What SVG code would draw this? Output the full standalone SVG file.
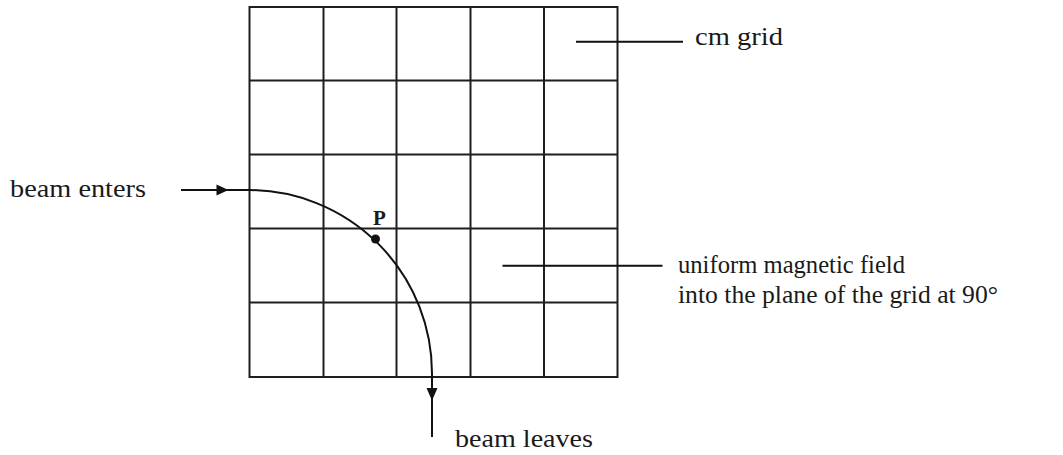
<svg xmlns="http://www.w3.org/2000/svg" width="1063" height="455" viewBox="0 0 1063 455">
<style>
.g{stroke:#1e1e1e;stroke-width:2;fill:none}
.b{stroke:#111;stroke-width:2;fill:none}
.t{font-family:'Liberation Serif','DejaVu Serif','Times New Roman',serif;font-size:26px;fill:#1a1a1a}
.p{font-family:'Liberation Serif','DejaVu Serif','Times New Roman',serif;font-size:21px;font-weight:bold;fill:#1a1a1a}
.h{fill:#111}
</style>
<rect width="1063" height="455" fill="#fff"/>
<g id="grid">
<rect class="g" x="249.5" y="7" width="368" height="370"/>
<path class="g" d="M323.5 7V377M396.5 7V377M470.5 7V377M544 7V377M249.5 80.5H617.5M249.5 154.5H617.5M249.5 228.5H617.5M249.5 302.5H617.5"/>
</g>
<g id="connectors">
<path class="b" d="M181 190H249A183.5 183.5 0 0 1 432 374V437"/>
<polygon class="h" points="228.5,190 216.5,184.5 216.5,195.5"/>
<polygon class="h" points="432,400.5 426.5,388 437.5,388"/>
<path class="b" d="M576 41.7H683M502.5 265.7H662.5"/>
</g>
<g id="point-P">
<circle class="h" cx="375.5" cy="239" r="4.5"/>
<text class="p" x="373" y="225">P</text>
</g>
<g id="label-enters"><text class="t" x="10" y="197" textLength="136" lengthAdjust="spacingAndGlyphs">beam enters</text></g>
<g id="label-leaves"><text class="t" x="455" y="447" textLength="138" lengthAdjust="spacingAndGlyphs">beam leaves</text></g>
<g id="label-grid"><text class="t" x="695" y="45" textLength="88" lengthAdjust="spacingAndGlyphs">cm grid</text></g>
<g id="label-field">
<text class="t" x="678" y="273" textLength="227" lengthAdjust="spacingAndGlyphs">uniform magnetic field</text>
<text class="t" x="678" y="303" textLength="320" lengthAdjust="spacingAndGlyphs">into the plane of the grid at 90°</text>
</g>
</svg>
